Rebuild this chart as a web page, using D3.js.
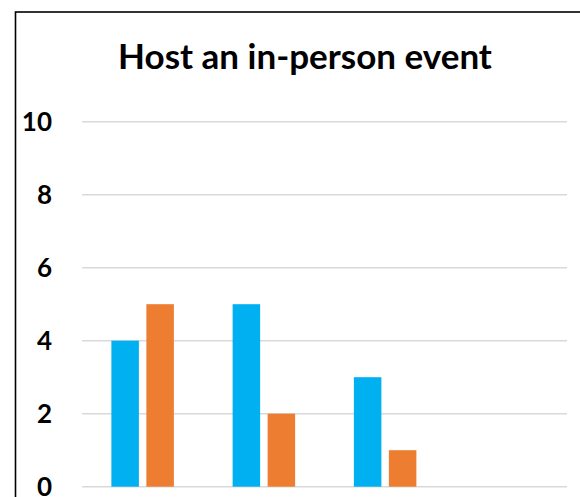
<!DOCTYPE html>
<html>
<head>
<meta charset="utf-8">
<script src="https://cdn.jsdelivr.net/npm/d3@7"></script>
<style>
  html, body { margin: 0; padding: 0; background: #fff; }
  svg { display: block; }
</style>
</head>
<body>
<svg id="chart" width="580" height="497"></svg>
<script>
// Chart data
const categories = ["Group 1", "Group 2", "Group 3", "Group 4"];
const seriesNames = ["Series 1", "Series 2"];
const series1 = [4, 5, 3, 0];
const series2 = [5, 2, 1, 0];
const yTicks = [0, 2, 4, 6, 8, 10];
const colors = ["#00B0F0", "#ED7D31"];
const titleText = "Host an in-person event";

const svg = d3.select("#chart");

// Outer frame (right and bottom edges run past the viewport)
svg.append("rect")
  .attr("x", 15.5).attr("y", 12)
  .attr("width", 700).attr("height", 700)
  .attr("fill", "#fff")
  .attr("stroke", "#000")
  .attr("stroke-width", 1.6);

const plotLeft = 82, plotRight = 567;
const y = d3.scaleLinear().domain([0, 10]).range([486.7, 121.7]);
const x0 = d3.scaleBand().domain(categories).range([plotLeft, plotRight]);
const groupWidth = 62.5;
const x1 = d3.scaleBand().domain(seriesNames).range([0, groupWidth]).paddingInner(0.2143);

// Gridlines
svg.append("g").selectAll("line").data(yTicks).join("line")
  .attr("x1", plotLeft).attr("x2", plotRight)
  .attr("y1", d => y(d)).attr("y2", d => y(d))
  .attr("stroke", "#D9D9D9").attr("stroke-width", 1.5);

// Y tick labels
svg.append("g").selectAll("text").data(yTicks).join("text")
  .attr("x", 52).attr("y", d => y(d))
  .attr("dy", "0.36em")
  .attr("text-anchor", "end")
  .attr("font-family", "Lato, 'Open Sans', sans-serif")
  .attr("font-weight", "bold")
  .attr("font-size", 26)
  .attr("fill", "#000")
  .text(d => d);

// Bars
const rows = categories.map((c, i) => ({ cat: c, vals: [series1[i], series2[i]] }));
const groups = svg.append("g").selectAll("g").data(rows).join("g")
  .attr("transform", d => `translate(${x0(d.cat) + (x0.bandwidth() - groupWidth) / 2},0)`);
groups.selectAll("rect")
  .data(d => d.vals.map((v, j) => ({ name: seriesNames[j], v, j })))
  .join("rect")
  .attr("x", d => x1(d.name))
  .attr("width", x1.bandwidth())
  .attr("y", d => y(d.v))
  .attr("height", d => y(0) - y(d.v))
  .attr("fill", d => colors[d.j]);

// Title
svg.append("text")
  .attr("x", 305).attr("y", 69)
  .attr("text-anchor", "middle")
  .attr("font-family", "Lato, 'Open Sans', sans-serif")
  .attr("font-weight", "bold")
  .attr("font-size", 35)
  .attr("fill", "#000")
  .text(titleText);
</script>
</body>
</html>
